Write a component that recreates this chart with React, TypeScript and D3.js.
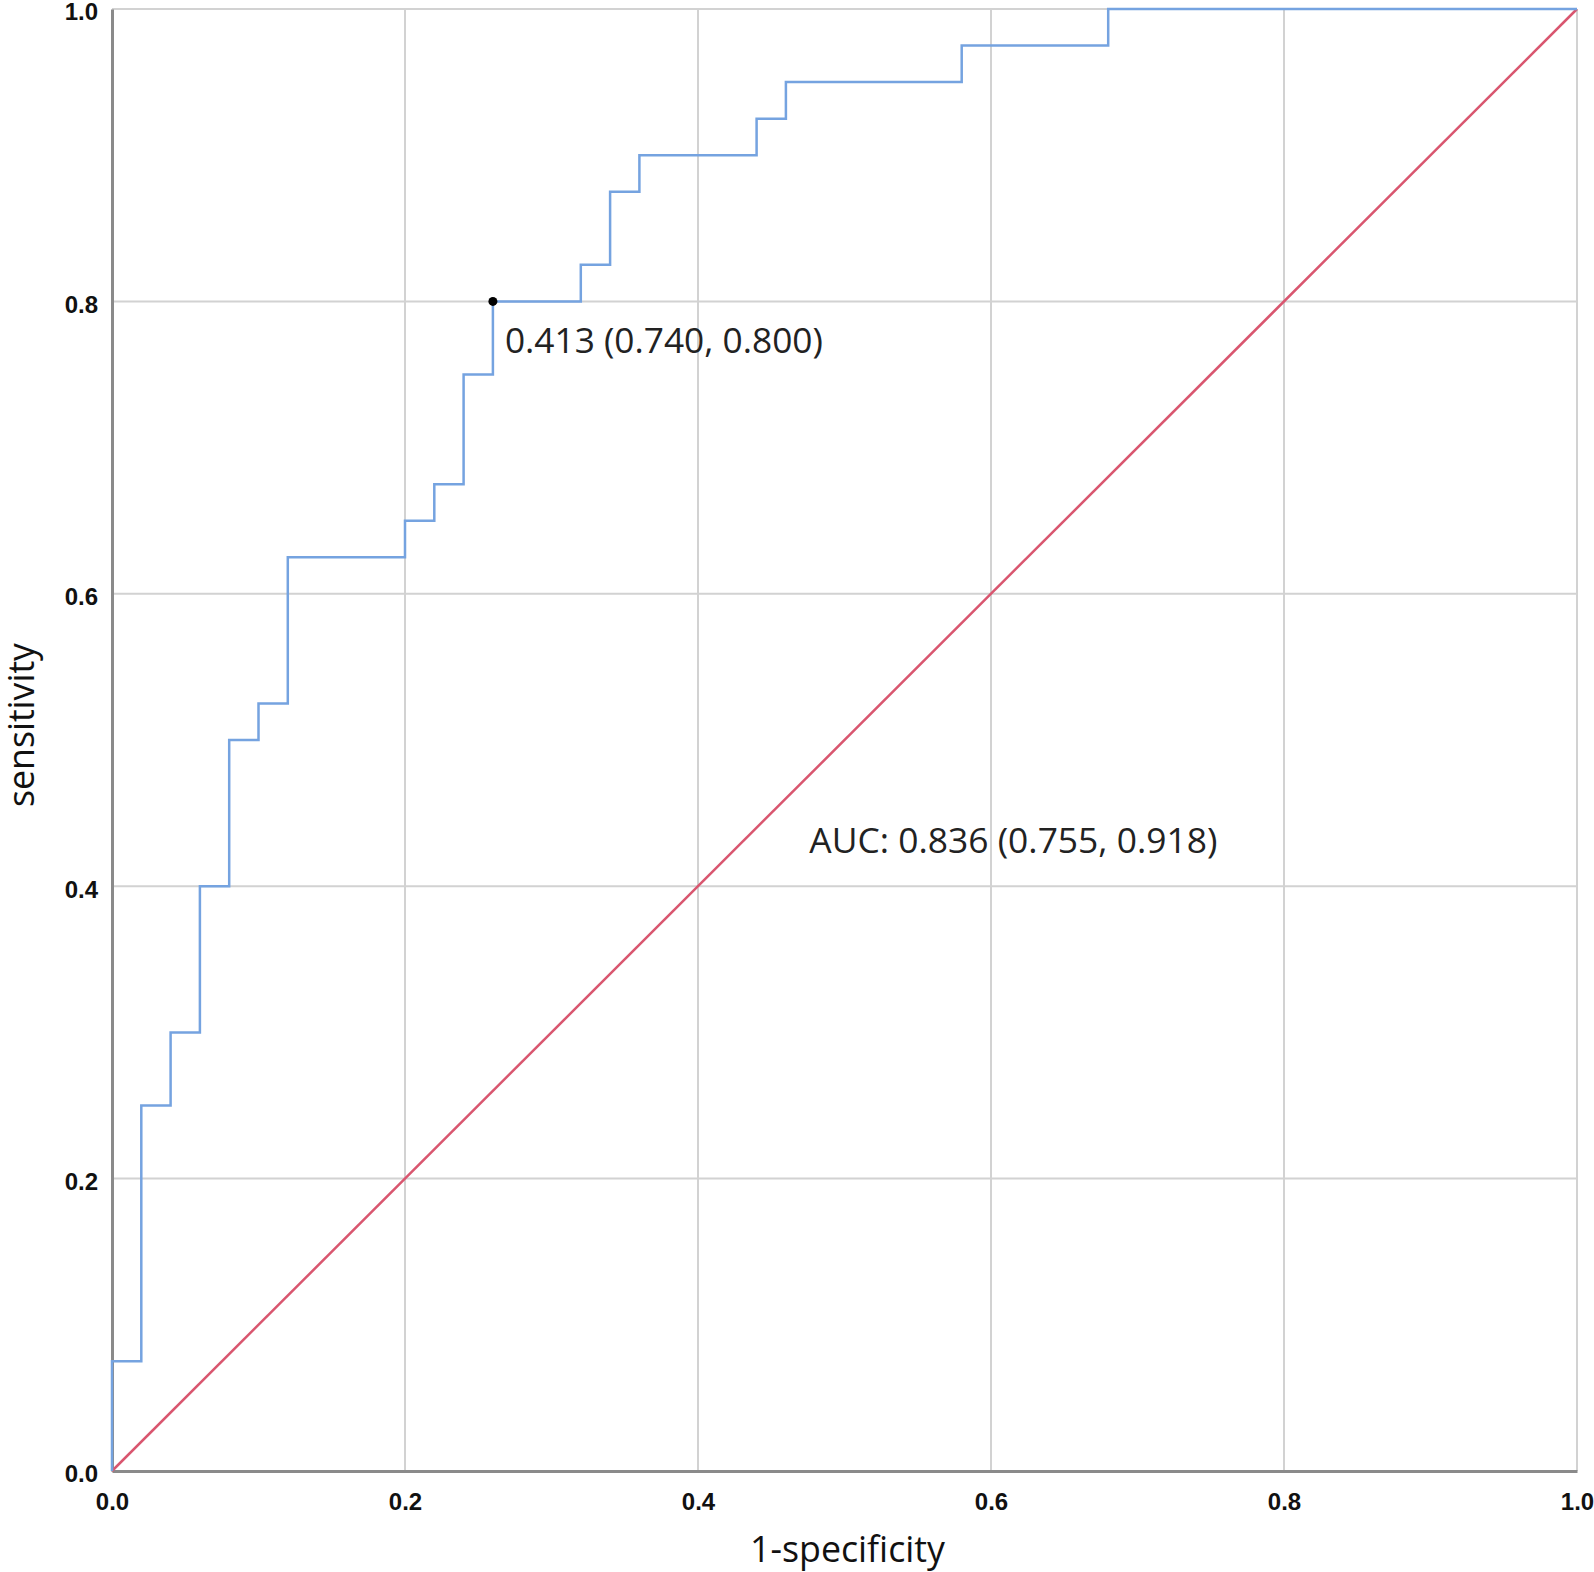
import { useRef, useEffect } from 'react';
import * as d3 from 'd3';

// ROC curve vertices (1-specificity, sensitivity)
const fpr = [0, 0, 0.02, 0.04, 0.06, 0.08, 0.10, 0.12, 0.20, 0.22, 0.24, 0.26, 0.32, 0.34, 0.36, 0.44, 0.46, 0.58, 0.68, 1.0];
const tpr = [0, 0.075, 0.25, 0.30, 0.40, 0.50, 0.525, 0.625, 0.65, 0.675, 0.75, 0.80, 0.825, 0.875, 0.90, 0.925, 0.95, 0.975, 1.0, 1.0];
const refLine = [0, 1];
const ticks = [0, 0.2, 0.4, 0.6, 0.8, 1.0];
const cutoff = { fpr: 0.26, tpr: 0.80, label: '0.413 (0.740, 0.800)' };
const aucLabel = 'AUC: 0.836 (0.755, 0.918)';
const aucPos = { x: 0.476, y: 0.423 };

export default function App() {
  const ref = useRef<SVGSVGElement>(null);

  useEffect(() => {
    const W = 1594, H = 1572;
    const L = 112, R = 1577, T = 9, B = 1471;
    const svg = d3.select(ref.current).attr('width', W).attr('height', H);
    svg.selectAll('*').remove();

    const x = d3.scaleLinear().domain([0, 1]).range([L, R]);
    const y = d3.scaleLinear().domain([0, 1]).range([B, T]);

    // grid
    const grid = svg.append('g').attr('stroke', '#d2d2d2').attr('stroke-width', 2);
    grid.selectAll('line.v').data(ticks.slice(1)).join('line').attr('class', 'v')
      .attr('x1', d => x(d)).attr('x2', d => x(d)).attr('y1', T).attr('y2', B);
    grid.selectAll('line.h').data(ticks.slice(1)).join('line').attr('class', 'h')
      .attr('x1', L).attr('x2', R).attr('y1', d => y(d)).attr('y2', d => y(d));

    // axes
    const fmt = d3.format('.1f');
    const ax = svg.append('g').attr('transform', `translate(0,${B})`)
      .call(d3.axisBottom(x).tickValues(ticks).tickFormat(d => fmt(d as number)).tickSize(0).tickPadding(0));
    const ay = svg.append('g').attr('transform', `translate(${L},0)`)
      .call(d3.axisLeft(y).tickValues(ticks).tickFormat(d => fmt(d as number)).tickSize(0).tickPadding(14));
    [ax, ay].forEach(g => {
      g.select('.domain').attr('stroke', '#8a8a8a').attr('stroke-width', 3);
      g.selectAll('text')
        .attr('font-family', '"Liberation Sans", Arial, sans-serif')
        .attr('font-weight', 'bold')
        .attr('font-size', 24)
        .attr('fill', '#111');
    });
    ax.selectAll('text').attr('dy', null).attr('y', 39);
    ay.selectAll('text').attr('dy', '0.45em');

    // reference diagonal
    svg.append('path')
      .datum(refLine)
      .attr('fill', 'none')
      .attr('stroke', '#d9566f')
      .attr('stroke-width', 2.5)
      .attr('d', d3.line<number>().x(d => x(d)).y(d => y(d)));

    // ROC curve
    const pts = fpr.map((f, i) => [f, tpr[i]] as [number, number]);
    svg.append('path')
      .datum(pts)
      .attr('fill', 'none')
      .attr('stroke', '#75a3e0')
      .attr('stroke-width', 2.5)
      .attr('d', d3.line<[number, number]>().x(d => x(d[0])).y(d => y(d[1])).curve(d3.curveStepAfter));

    // cutoff point
    svg.append('circle')
      .attr('cx', x(cutoff.fpr)).attr('cy', y(cutoff.tpr)).attr('r', 4.5).attr('fill', '#000');

    const font = '"Open Sans", "Noto Sans", sans-serif';
    svg.append('text')
      .attr('x', x(cutoff.fpr) + 12).attr('y', y(cutoff.tpr) + 52)
      .attr('font-family', font).attr('fill', '#222')
      .attr('font-size', 35)
      .attr('textLength', 318).attr('lengthAdjust', 'spacingAndGlyphs')
      .text(cutoff.label);

    svg.append('text')
      .attr('x', x(aucPos.x)).attr('y', y(aucPos.y))
      .attr('font-family', font).attr('fill', '#222')
      .attr('font-size', 35)
      .attr('textLength', 408).attr('lengthAdjust', 'spacingAndGlyphs')
      .text(aucLabel);

    // axis titles
    svg.append('text')
      .attr('x', (L + R) / 2 + 3).attr('y', 1562)
      .attr('text-anchor', 'middle')
      .attr('font-family', font).attr('fill', '#111')
      .attr('font-size', 36)
      .attr('textLength', 195).attr('lengthAdjust', 'spacingAndGlyphs')
      .text('1-specificity');

    svg.append('text')
      .attr('transform', `translate(34,725) rotate(-90)`)
      .attr('text-anchor', 'middle')
      .attr('font-family', font).attr('fill', '#111')
      .attr('font-size', 36)
      .attr('textLength', 164).attr('lengthAdjust', 'spacingAndGlyphs')
      .text('sensitivity');
  }, []);

  return <svg ref={ref} style={{ position: 'absolute', left: 0, top: 0, background: '#fff' }}></svg>;
}
